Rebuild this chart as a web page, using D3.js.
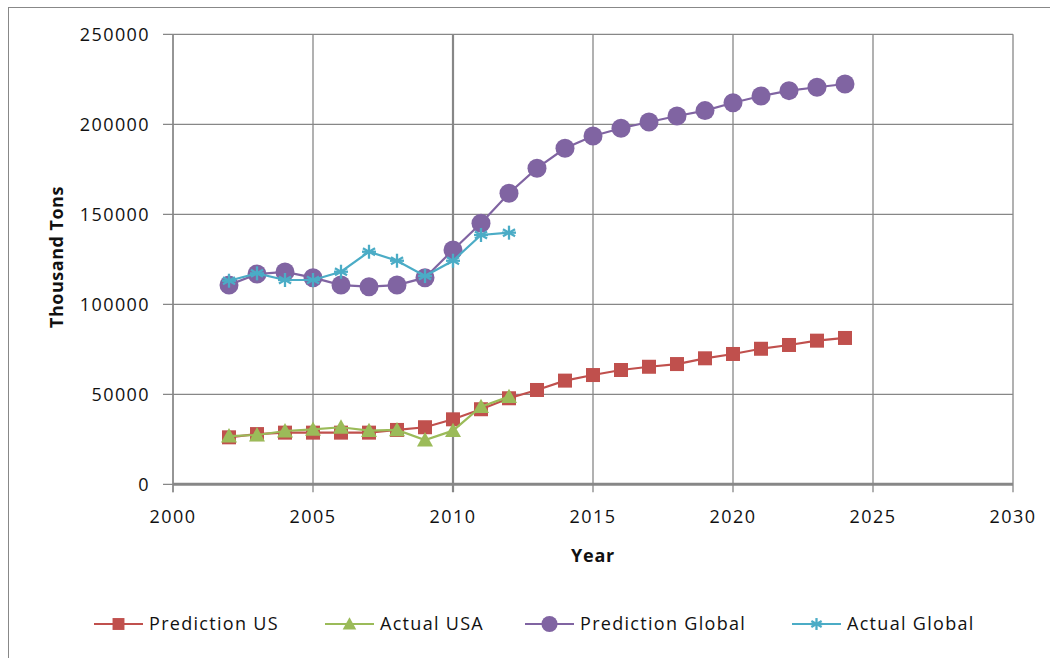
<!DOCTYPE html>
<html><head><meta charset="utf-8">
<script src="https://cdn.jsdelivr.net/npm/d3@7"></script>
<style>body{margin:0;background:#fff}svg{display:block}text{font-family:"Open Sans",sans-serif}</style>
</head><body>
<script>
const predYears = [2002,2003,2004,2005,2006,2007,2008,2009,2010,2011,2012,2013,2014,2015,2016,2017,2018,2019,2020,2021,2022,2023,2024];
const actYears = [2002,2003,2004,2005,2006,2007,2008,2009,2010,2011,2012];
const predictionUS = [26100,27900,28700,28700,28700,28700,30200,31700,36100,41700,47800,52400,57600,60700,63500,65300,66800,70000,72400,75300,77400,79800,81300];
const actualUSA = [26800,27400,29600,30500,31700,29800,30200,24600,29800,43100,48700];
const predictionGlobal = [110700,116800,118000,114800,110700,109800,110700,114800,130200,145000,161700,175600,186700,193500,197800,201300,204600,207600,212000,215700,218700,220600,222400];
const actualGlobal = [113100,117200,113500,113500,118100,129200,124200,115700,124200,138500,139800];
const xTicks = [2000,2005,2010,2015,2020,2025,2030];
const yTicks = [0,50000,100000,150000,200000,250000];
const seriesNames = ["Prediction US","Actual USA","Prediction Global","Actual Global"];
const colors = ["#C0504D","#9BBB59","#8064A2","#4BACC6"];

const W=1050,H=658;
const svg=d3.select("body").append("svg").attr("width",W).attr("height",H);
svg.append("rect").attr("x",8.5).attr("y",7.5).attr("width",1100).attr("height",700).attr("fill","none").attr("stroke","#888").attr("stroke-width",1);

const x=d3.scaleLinear().domain([2000,2030]).range([173,1013]);
const y=d3.scaleLinear().domain([0,250000]).range([484.3,34.3]);

const g=svg.append("g");
g.selectAll(".hg").data(yTicks).enter().append("line")
 .attr("x1",x(2000)-10).attr("x2",x(2030)).attr("y1",d=>y(d)).attr("y2",d=>y(d))
 .attr("stroke","#878787").attr("stroke-width",1.3);
g.selectAll(".vg").data(xTicks).enter().append("line")
 .attr("x1",d=>x(d)).attr("x2",d=>x(d)).attr("y1",y(250000)).attr("y2",y(0)+8)
 .attr("stroke","#878787").attr("stroke-width",d=>d===2010?2.2:1.3);
g.append("line").attr("x1",x(2000)).attr("x2",x(2030)).attr("y1",y(0)).attr("y2",y(0)).attr("stroke","#878787").attr("stroke-width",3);
g.append("line").attr("x1",x(2000)).attr("x2",x(2000)).attr("y1",y(250000)).attr("y2",y(0)+8).attr("stroke","#878787").attr("stroke-width",1.3);

g.selectAll(".yl").data(yTicks).enter().append("text")
 .attr("x",150).attr("y",d=>y(d)).attr("dy","0.35em").attr("text-anchor","end")
 .attr("font-size",18).attr("letter-spacing",1.4).attr("fill","#111").text(d=>d);
g.selectAll(".xl").data(xTicks).enter().append("text")
 .attr("x",d=>x(d)).attr("y",517).attr("dy","0.35em").attr("text-anchor","middle")
 .attr("font-size",18).attr("letter-spacing",1.4).attr("fill","#111").text(d=>d);

svg.append("text").attr("transform","translate(57,257) rotate(-90)").attr("text-anchor","middle").attr("dy","0.35em")
 .attr("font-size",18).attr("font-weight","bold").attr("letter-spacing",0.5).attr("fill","#111").text("Thousand Tons");
svg.append("text").attr("x",593).attr("y",556).attr("text-anchor","middle").attr("dy","0.35em")
 .attr("font-size",18).attr("font-weight","bold").attr("letter-spacing",0.8).attr("fill","#111").text("Year");

const line=d3.line().x(d=>x(d[0])).y(d=>y(d[1]));
const series=[
 {years:predYears,vals:predictionUS,c:colors[0],m:"square"},
 {years:actYears,vals:actualUSA,c:colors[1],m:"triangle"},
 {years:predYears,vals:predictionGlobal,c:colors[2],m:"circle"},
 {years:actYears,vals:actualGlobal,c:colors[3],m:"star"}
];
function marker(sel,type,c,px,py,scale){
  scale=scale||1;
  if(type==="square"){sel.append("rect").attr("x",px-7*scale).attr("y",py-7*scale).attr("width",14*scale).attr("height",14*scale).attr("fill",c);}
  else if(type==="triangle"){const s=8*scale;sel.append("path").attr("d",`M${px},${py-s}L${px+s},${py+s*0.8}L${px-s},${py+s*0.8}Z`).attr("fill",c);}
  else if(type==="circle"){sel.append("circle").attr("cx",px).attr("cy",py).attr("r",9.5*scale).attr("fill",c);}
  else {const r=7*scale;const gg=sel.append("g").attr("stroke",c).attr("stroke-width",2.3);
    [0,60,120].forEach(a=>{const rad=a*Math.PI/180;gg.append("line").attr("x1",px-r*Math.sin(rad)).attr("y1",py-r*Math.cos(rad)).attr("x2",px+r*Math.sin(rad)).attr("y2",py+r*Math.cos(rad));});
    gg.append("line").attr("x1",px-r).attr("x2",px+r).attr("y1",py).attr("y2",py);}
}
series.forEach(s=>{
  const pts=s.years.map((yr,i)=>[yr,s.vals[i]]);
  const sg=svg.append("g");
  sg.append("path").attr("d",line(pts)).attr("fill","none").attr("stroke",s.c).attr("stroke-width",2.2);
  pts.forEach(p=>marker(sg,s.m,s.c,x(p[0]),y(p[1])));
});

const legX=[94,325,525,792];
const lg=svg.append("g");
seriesNames.forEach((n,i)=>{
  const lx=legX[i],ly=624;
  lg.append("line").attr("x1",lx).attr("x2",lx+49).attr("y1",ly).attr("y2",ly).attr("stroke",colors[i]).attr("stroke-width",2.2);
  marker(lg,series[i].m,colors[i],lx+24.5,ly,0.85);
  lg.append("text").attr("x",lx+55).attr("y",ly).attr("dy","0.35em").attr("font-size",18).attr("letter-spacing",1.3).attr("fill","#111").text(n);
});
</script>
</body></html>
